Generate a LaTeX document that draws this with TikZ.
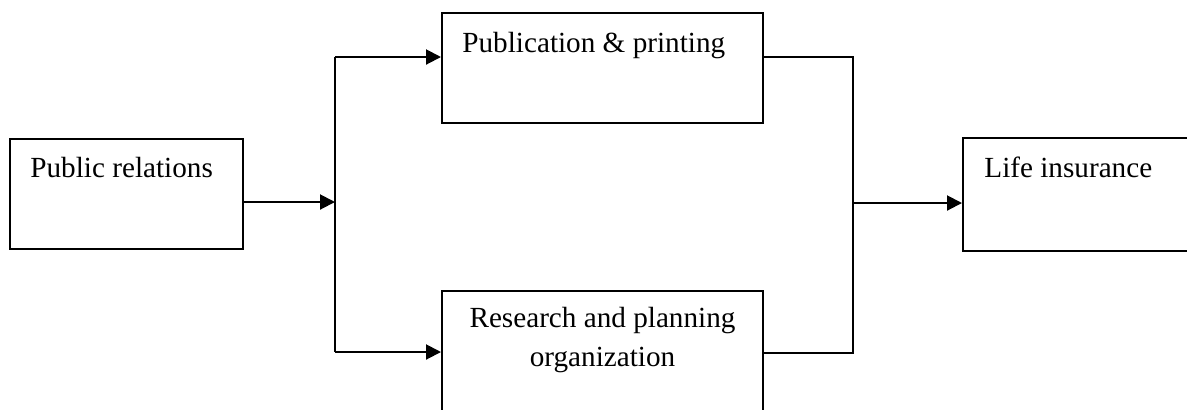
\documentclass[tikz,border=0pt]{standalone}
\usepackage{fontspec}
\setmainfont{Liberation Serif}
\usetikzlibrary{arrows.meta,fit}
\begin{document}
\begin{tikzpicture}[x=0.5pt,y=-0.5pt,
  box/.style={draw=black,line width=1pt,inner sep=0pt},
  lbl/.style={inner sep=0pt,font=\fontsize{14.6pt}{19.5pt}\selectfont},
  conn/.style={line width=1pt},
  arr/.style={line width=1pt,-{Triangle[length=7.5pt,width=7.5pt]}}]
\useasboundingbox (0,0) rectangle (1187,409);
% boxes
\node[box,fit={(10,139) (243,249)}] (pr) {};
\node[box,fit={(442,13) (763,123)}] (pub) {};
\node[box,fit={(442,291) (763,440)}] (res) {};
\node[box,fit={(963,138) (1260,251)}] (life) {};
% texts
\node[lbl,anchor=base west] (tpr) at (30,177) {Public relations};
\node[lbl,anchor=base west] (tpub) at (462,52) {Publication \& printing};
\node[lbl,anchor=base,align=center] (tres) at (602.5,366) {Research and planning\\organization};
\node[lbl,anchor=base west] (tlife) at (984,177) {Life insurance};
% junction points
\coordinate (j1) at (335,202);
\coordinate (j1t) at (335,57);
\coordinate (j1b) at (335,352);
\coordinate (j2t) at (853,57);
\coordinate (j2b) at (853,353);
\coordinate (j2) at (853,203);
% connectors
\draw[arr] (pr.east |- j1) -- (j1);
\draw[conn] (j1t) -- (j1b);
\draw[arr] (j1t) -- (pub.west |- j1t);
\draw[arr] (j1b) -- (res.west |- j1b);
\draw[conn] (pub.east |- j2t) -- (j2t) -- (j2b) -- (res.east |- j2b);
\draw[arr] (j2) -- (life.west |- j2);
\end{tikzpicture}
\end{document}
